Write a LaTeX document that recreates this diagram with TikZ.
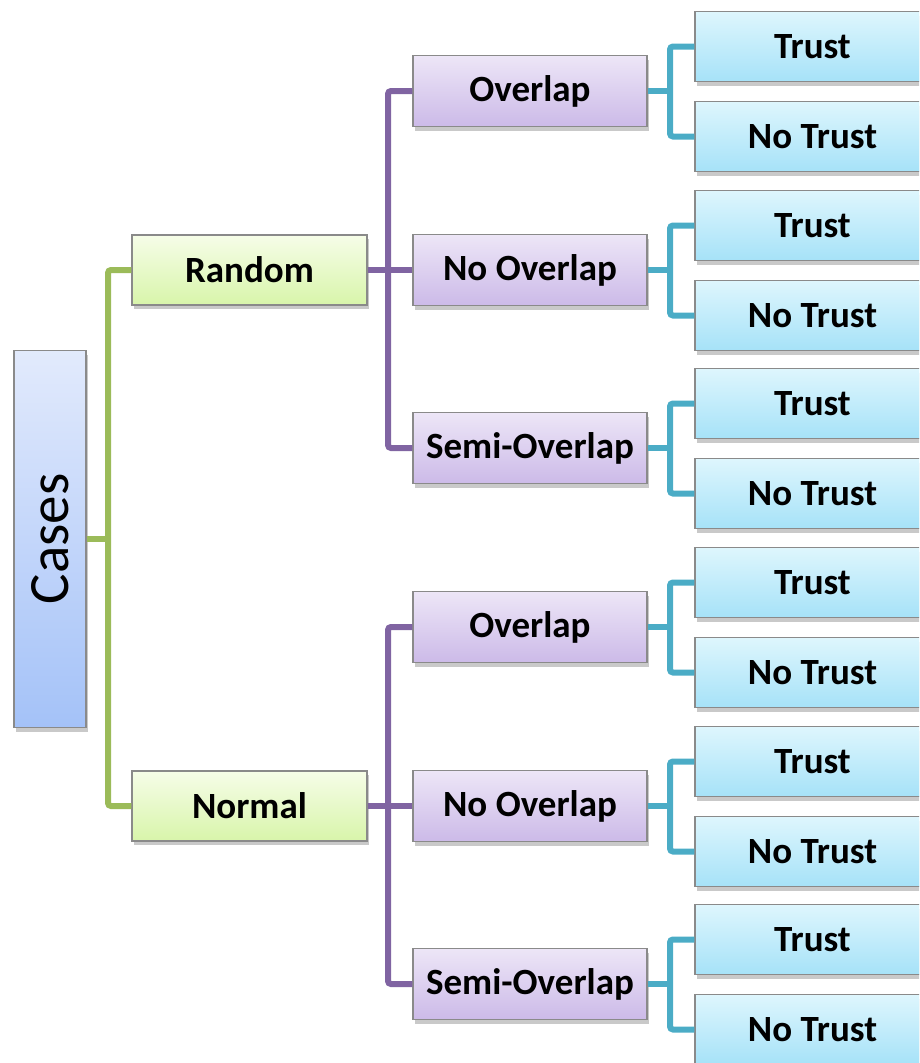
\documentclass[tikz,border=0pt]{standalone}
\usepackage{fontspec}
\setmainfont{Carlito}
\usetikzlibrary{shadows}
\definecolor{gline}{HTML}{9BBB59}
\definecolor{pline}{HTML}{8064A2}
\definecolor{cline}{HTML}{4BACC6}
\definecolor{boxedge}{HTML}{8A8A8A}
\tikzset{
  box/.style={draw=boxedge, line width=1.2pt, minimum width=235pt, minimum height=70pt,
    inner sep=0pt, font=\fontsize{37}{40}\selectfont\bfseries,
    drop shadow={shadow xshift=2pt, shadow yshift=-4pt, opacity=0.3, fill=black!70}},
  casebox/.style={box, minimum width=72pt, minimum height=377pt,
    top color={rgb,255:red,226;green,234;blue,252}, bottom color={rgb,255:red,164;green,194;blue,248}},
  lvlone/.style={box, top color={rgb,255:red,246;green,253;blue,232}, bottom color={rgb,255:red,216;green,245;blue,170}},
  lvltwo/.style={box, minimum width=234pt, minimum height=71pt, top color={rgb,255:red,237;green,230;blue,247}, bottom color={rgb,255:red,204;green,186;blue,232}},
  lvlthree/.style={box, top color={rgb,255:red,222;green,246;blue,253}, bottom color={rgb,255:red,166;green,226;blue,248}},
  conn/.style={line width=6pt, rounded corners=3pt},
}
\begin{document}
\begin{tikzpicture}[x=1pt,y=-1pt]
\useasboundingbox (0,0) rectangle (919,1063);
\clip (0,0) rectangle (919,1063);
% Level 0
\node[casebox] (cases) at (50,539) {\rotatebox{90}{\fontsize{57}{60}\selectfont\mdseries Cases}};
% Level 1
\node[lvlone] (random) at (249.5,270) {Random};
\node[lvlone] (normal) at (249.5,806) {Normal};
% Level 2
\node[lvltwo] (r1) at (530,91) {Overlap};
\node[lvltwo] (r2) at (530,270) {No Overlap};
\node[lvltwo] (r3) at (530,448) {Semi-Overlap};
\node[lvltwo] (n1) at (530,627) {Overlap};
\node[lvltwo] (n2) at (530,806) {No Overlap};
\node[lvltwo] (n3) at (530,984) {Semi-Overlap};
% Level 3
\foreach \p/\y in {r1/91, r2/270, r3/448, n1/627, n2/806, n3/984}{
  \node[lvlthree] (\p t) at (812.5,\y-44.5) {Trust};
  \node[lvlthree] (\p n) at (812.5,\y+45.5) {No Trust};
}
% trunk coordinates
\coordinate (gx) at (108,0);
\coordinate (px) at (388,0);
\coordinate (cx) at (670,0);
% green connectors
\draw[conn, gline] (cases.east) -- (cases.east -| gx);
\draw[conn, gline] (random.west) -- (random.west -| gx) -- (normal.west -| gx) -- (normal.west);
% purple connectors
\foreach \a/\b/\c/\d in {random/r1/r2/r3, normal/n1/n2/n3}{
  \draw[conn, pline] (\a.east) -- (\c.west);
  \draw[conn, pline] (\b.west) -- (\b.west -| px) -- (\d.west -| px) -- (\d.west);
}
% cyan connectors
\foreach \p in {r1,r2,r3,n1,n2,n3}{
  \draw[conn, cline] (\p.east) -- (\p.east -| cx);
  \draw[conn, cline] (\p t.west) -- (\p t.west -| cx) -- (\p n.west -| cx) -- (\p n.west);
}
\end{tikzpicture}
\end{document}
